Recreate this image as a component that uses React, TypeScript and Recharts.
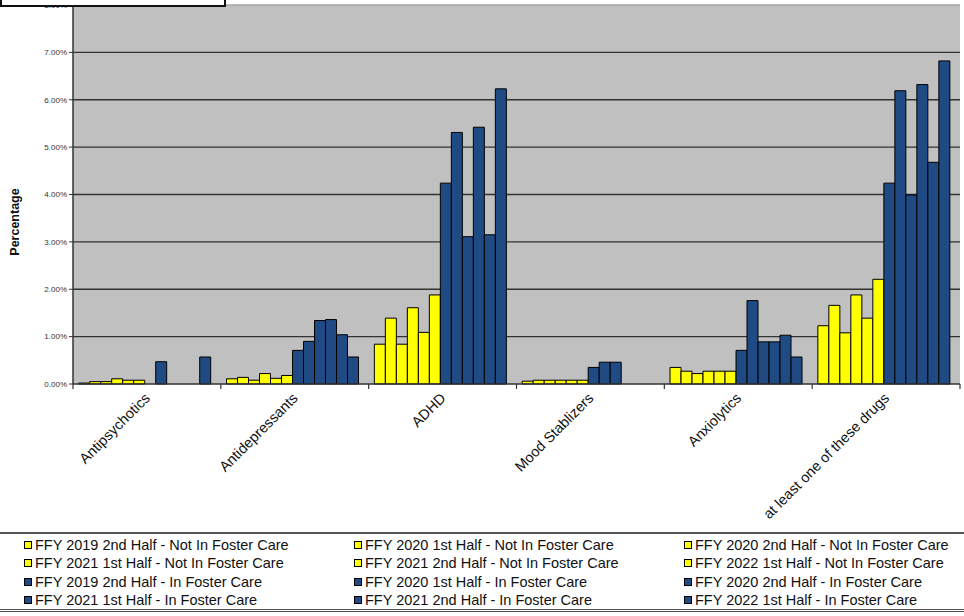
import React from "react";
import {
  Bar,
  BarChart,
  CartesianGrid,
  ReferenceLine,
  XAxis,
  YAxis,
} from "recharts";

const CATEGORIES = [
  "Antipsychotics",
  "Antidepressants",
  "ADHD",
  "Mood Stablizers",
  "Anxiolytics",
  "at least one of these drugs",
];

const SERIES_NAMES = [
  "FFY 2019 2nd Half - Not In Foster Care",
  "FFY 2020 1st Half - Not In Foster Care",
  "FFY 2020 2nd Half - Not In Foster Care",
  "FFY 2021 1st Half - Not In Foster Care",
  "FFY 2021 2nd Half - Not In Foster Care",
  "FFY 2022 1st Half - Not In Foster Care",
  "FFY 2019 2nd Half - In Foster Care",
  "FFY 2020 1st Half - In Foster Care",
  "FFY 2020 2nd Half - In Foster Care",
  "FFY 2021 1st Half - In Foster Care",
  "FFY 2021 2nd Half - In Foster Care",
  "FFY 2022 1st Half - In Foster Care",
];

// percentages, one value per category
const NOT_FC_2019_H2 = [0.02, 0.11, 0.84, 0.06, 0.35, 1.23];
const NOT_FC_2020_H1 = [0.05, 0.14, 1.39, 0.08, 0.27, 1.66];
const NOT_FC_2020_H2 = [0.05, 0.08, 0.84, 0.08, 0.22, 1.08];
const NOT_FC_2021_H1 = [0.11, 0.22, 1.61, 0.08, 0.27, 1.88];
const NOT_FC_2021_H2 = [0.08, 0.12, 1.09, 0.08, 0.27, 1.39];
const NOT_FC_2022_H1 = [0.08, 0.18, 1.88, 0.08, 0.27, 2.21];
const IN_FC_2019_H2 = [0, 0.71, 4.24, 0.35, 0.71, 4.24];
const IN_FC_2020_H1 = [0.47, 0.9, 5.31, 0.46, 1.76, 6.19];
const IN_FC_2020_H2 = [0, 1.34, 3.11, 0.46, 0.89, 3.99];
const IN_FC_2021_H1 = [0, 1.36, 5.42, 0, 0.89, 6.32];
const IN_FC_2021_H2 = [0, 1.04, 3.15, 0, 1.03, 4.68];
const IN_FC_2022_H1 = [0.57, 0.57, 6.23, 0, 0.57, 6.82];

const Y_TICKS = [0, 1, 2, 3, 4, 5, 6, 7, 8];

const SERIES_VALUES = [
  NOT_FC_2019_H2,
  NOT_FC_2020_H1,
  NOT_FC_2020_H2,
  NOT_FC_2021_H1,
  NOT_FC_2021_H2,
  NOT_FC_2022_H1,
  IN_FC_2019_H2,
  IN_FC_2020_H1,
  IN_FC_2020_H2,
  IN_FC_2021_H1,
  IN_FC_2021_H2,
  IN_FC_2022_H1,
];

const YELLOW = "#ffff00";
const BLUE = "#1f4a84";
const colorFor = (i: number) => (i < 6 ? YELLOW : BLUE);

const data = CATEGORIES.map((name, ci) => {
  const row: Record<string, string | number> = { name };
  SERIES_VALUES.forEach((vals, si) => {
    row[`s${si}`] = vals[ci];
  });
  return row;
});

const FONT = '"Liberation Sans", Arial, sans-serif';
const PLOT_LEFT = 73;
const PLOT_RIGHT = 960;
const PLOT_BOTTOM = 384;
const BAND = (PLOT_RIGHT - PLOT_LEFT) / CATEGORIES.length;

function CategoryTick(props: any) {
  const { x, payload, index } = props;
  const left = x - BAND / 2;
  const tx = x + 4;
  const ty = PLOT_BOTTOM + 15;
  return (
    <g>
      <line x1={left} x2={left} y1={PLOT_BOTTOM} y2={PLOT_BOTTOM + 5} stroke="#333" strokeWidth={1.2} />
      {index === CATEGORIES.length - 1 && (
        <line x1={x + BAND / 2} x2={x + BAND / 2} y1={PLOT_BOTTOM} y2={PLOT_BOTTOM + 5} stroke="#333" strokeWidth={1.2} />
      )}
      <text
        x={tx}
        y={ty}
        textAnchor="end"
        fontSize={14.5}
        fontFamily={FONT}
        fill="#111"
        transform={`rotate(-45 ${tx} ${ty})`}
      >
        {payload.value}
      </text>
    </g>
  );
}

const YTitle = () => (
  <text
    x={19}
    y={222}
    textAnchor="middle"
    fontSize={12.5}
    fontWeight="bold"
    fontFamily={FONT}
    fill="#111"
    transform="rotate(-90 19 222)"
  >
    Percentage
  </text>
);

export default function App() {
  return (
    <div
      style={{
        position: "absolute",
        left: 0,
        top: 0,
        width: 964,
        height: 616,
        background: "#fff",
        fontFamily: FONT,
        overflow: "hidden",
      }}
    >
      <BarChart
        width={964}
        height={530}
        data={data}
        margin={{ top: 5, right: 4, bottom: 0, left: 0 }}
        barCategoryGap="3.85%"
        barGap={0}
      >
        <CartesianGrid
          vertical={false}
          horizontalValues={[1, 2, 3, 4, 5, 6, 7]}
          stroke="#333"
          strokeWidth={1.3}
          fill="#c0c0c0"
          fillOpacity={1}
        />
        <ReferenceLine y={8} stroke="#a6a6a6" strokeWidth={1.5} />
        <ReferenceLine x={CATEGORIES[5]} position="end" stroke="#a6a6a6" strokeWidth={1.5} />
        <XAxis
          dataKey="name"
          height={146}
          interval={0}
          tickLine={false}
          axisLine={{ stroke: "#333", strokeWidth: 1.5 }}
          tick={<CategoryTick />}
        />
        <YAxis
          width={73}
          domain={[0, 8]}
          ticks={Y_TICKS}
          interval={0}
          tickSize={4}
          tickMargin={2}
          axisLine={{ stroke: "#333", strokeWidth: 1.5 }}
          tickLine={{ stroke: "#333" }}
          tick={{ fontSize: 8, fill: "#333", fontFamily: FONT }}
          tickFormatter={(v: number) => `${v.toFixed(2)}%`}
          label={<YTitle />}
        />
        {SERIES_NAMES.map((n, i) => (
          <Bar
            key={n}
            dataKey={`s${i}`}
            name={n}
            fill={colorFor(i)}
            stroke="#000"
            strokeWidth={1}
            isAnimationActive={false}
          />
        ))}
      </BarChart>

      <div
        style={{
          position: "absolute",
          left: 0,
          top: 532,
          width: 964,
          height: 75,
          borderTop: "2px solid #555",
          borderBottom: "3px double #555",
        }}
      >
        {SERIES_NAMES.map((n, i) => {
          const col = i % 3;
          const row = Math.floor(i / 3);
          return (
            <div
              key={n}
              style={{
                position: "absolute",
                left: [24, 354, 684][col],
                top: 3 + row * 18.3,
                display: "flex",
                alignItems: "center",
                fontSize: 14.5,
                color: "#111",
                whiteSpace: "nowrap",
              }}
            >
              <span
                style={{
                  display: "inline-block",
                  width: 6,
                  height: 6,
                  background: colorFor(i),
                  border: "1px solid #000",
                  marginRight: 3,
                }}
              />
              {n}
            </div>
          );
        })}
      </div>

      <div
        style={{
          position: "absolute",
          left: 0,
          top: -3,
          width: 222,
          height: 6,
          background: "#fff",
          border: "2px solid #111",
        }}
      />
    </div>
  );
}
